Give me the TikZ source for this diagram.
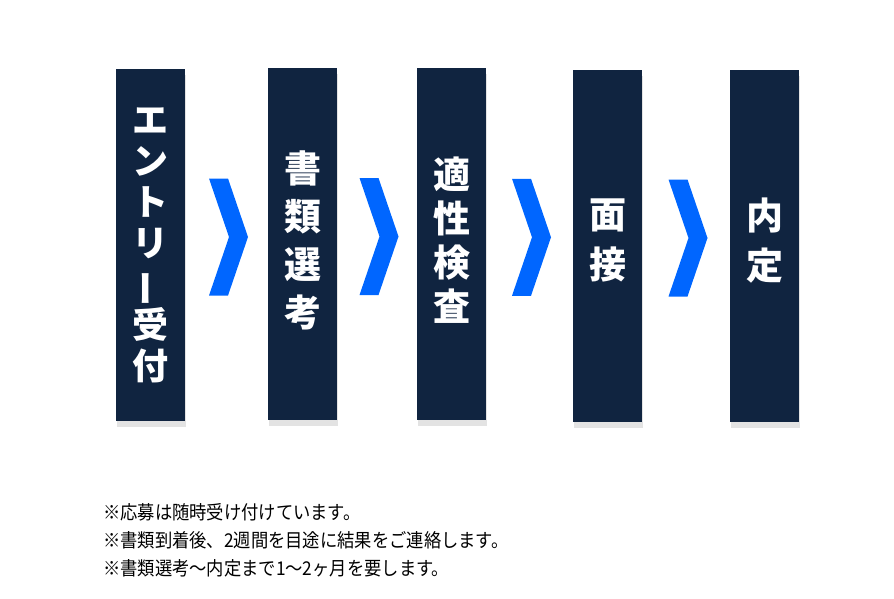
\documentclass[tikz,border=0pt]{standalone}
\usepackage{fontspec}
\setmainfont{Noto Sans CJK JP}
\newfontfamily\notefont{Noto Sans CJK JP}[FakeStretch=0.91]
\definecolor{flownavy}{RGB}{16,36,64}
\definecolor{flowblue}{RGB}{0,102,255}
\usetikzlibrary{positioning,calc,shadows}

\begin{document}
\begin{tikzpicture}[x=1pt,y=-1pt,
    stepbox/.style={fill=flownavy,minimum width=69pt,minimum height=352pt,inner sep=0pt,
      drop shadow={shadow xshift=1pt,shadow yshift=-6pt,opacity=0.22}},
    steptext/.style={text=white,align=center,inner sep=0pt,font=\bfseries\fontsize{37}{50}\selectfont},
    chevron/.style={fill=flowblue}]
    \useasboundingbox (0,0) rectangle (894,598);
    % selection steps
    \node[stepbox] (entry) at (150.5,245) {};
    \node[stepbox] (docs) at (302.5,244) {};
    \node[stepbox] (aptitude) at (451.5,244) {};
    \node[stepbox] (interview) at (607.5,245.5) {};
    \node[stepbox] (offer) at (764.5,245.5) {};

    \node[steptext,font=\bfseries\fontsize{36}{41}\selectfont] (entrytxt) at (entry.center)
      {エ\\ン\\ト\\リ\\\rotatebox[origin=c]{90}{ー}\\受\\付};
    \node[steptext,font=\bfseries\fontsize{37}{48}\selectfont] (docstxt) at ($(docs.center)+(0,-4)$) {書\\類\\選\\考};
    \node[steptext,font=\bfseries\fontsize{37}{44}\selectfont] (aptitudetxt) at ($(aptitude.center)+(0,-4)$) {適\\性\\検\\査};
    \node[steptext] (interviewtxt) at ($(interview.center)+(0,-5)$) {面\\接};
    \node[steptext] (offertxt) at ($(offer.center)+(0,-5)$) {内\\定};

    % chevrons between the steps
    \foreach \a/\b in {entry/docs,docs/aptitude,aptitude/interview,interview/offer}
      \fill[chevron] ($(\a.east)!0.5!(\b.west)+(-17.5,-66)$) -- ++(19,0) -- ++(20,58.5)
        -- ++(-20,58.5) -- ++(-19,0) -- ++(20,-58.5) -- cycle;

    \node[anchor=west,align=left,inner sep=0pt,font=\notefont\fontsize{19}{28}\selectfont] (notes) at (103,540)
      {※応募は随時受け付けています。\\※書類到着後、2週間を目途に結果をご連絡します。\\※書類選考～内定まで1～2ヶ月を要します。};
\end{tikzpicture}
\end{document}
